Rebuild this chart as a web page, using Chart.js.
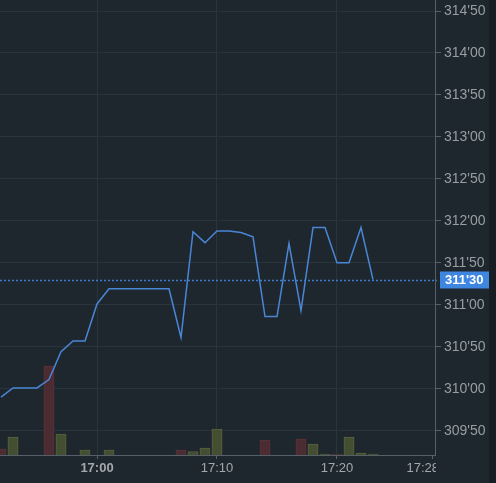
<!DOCTYPE html>
<html>
<head>
<meta charset="utf-8">
<script src="https://cdn.jsdelivr.net/npm/chart.js@4"></script>
<style>
  html, body { margin: 0; padding: 0; background: #181e23; overflow: hidden; }
  #wrap { width: 489px; height: 483px; background: #1f272e; }
</style>
</head>
<body>
<div id="wrap"><canvas id="chart" width="489" height="483"></canvas></div>
<script>
// One-minute bars, 16:52 to 17:23
const times = ['16:52','16:53','16:54','16:55','16:56','16:57','16:58','16:59',
               '17:00','17:01','17:02','17:03','17:04','17:05','17:06','17:07',
               '17:08','17:09','17:10','17:11','17:12','17:13','17:14','17:15',
               '17:16','17:17','17:18','17:19','17:20','17:21','17:22','17:23'];
const prices = [309.90, 310.01, 310.01, 310.01, 310.11, 310.44, 310.57, 310.57,
                311.01, 311.19, 311.19, 311.19, 311.19, 311.19, 311.19, 310.61,
                311.87, 311.74, 311.88, 311.88, 311.86, 311.81, 310.86, 310.86,
                311.73, 310.93, 311.92, 311.92, 311.50, 311.50, 311.92, 311.30];
const volumes = [60, 180, null, null, 890, 210, null, 50,
                 null, 50, null, null, null, null, null, 50,
                 35, 70, 260, null, null, null, 150, null,
                 null, 160, 110, 10, 10, 180, 20, 10];
const volumeDir = ['down','up','','','down','up','','up',
                   '','up','','','','','','down',
                   'up','up','up','','','','down','',
                   '','down','up','up','down','up','up','up'];
const xTicks = ['17:00', '17:10', '17:20', '17:28'];
const yTicks = [309.5, 310, 310.5, 311, 311.5, 312, 312.5, 313, 313.5, 314, 314.5];
const lastPrice = 311.30;

function toMinutes(t) {
    const [h, m] = t.split(':').map(Number);
    return h * 60 + m;
}
function formatPrice(v) {
    const whole = Math.floor(v + 1e-9);
    const frac = Math.round((v - whole) * 100);
    return whole + "'" + String(frac).padStart(2, '0');
}

const gridColor = '#2a343c';
const borderColor = '#566068';
const labelColor = '#979ea4';
const fontFamily = '"Liberation Sans", Arial, sans-serif';

// x ticks: grid ticks on the 10 minute marks, the last label sits a bit left of its tick mark
const xTickValues = xTicks.map(toMinutes);
const lastTick = xTickValues[xTickValues.length - 1];
const lastLabelPos = lastTick - 0.85;

// keep the plot flush with the canvas edges
function noPadding(s) {
    s.paddingTop = 0;
    s.paddingBottom = 0;
    s.paddingLeft = 0;
    s.paddingRight = 0;
}

const priceMarker = {
    id: 'priceMarker',
    afterDraw(chart) {
        const { ctx, chartArea, scales } = chart;
        const y = Math.round(scales.y.getPixelForValue(lastPrice)) + 0.5;
        ctx.save();
        // clip the last time label at the plot edge
        ctx.fillStyle = '#1f272e';
        ctx.fillRect(chartArea.right + 1, chartArea.bottom + 1, 60, 30);
        // dotted last price line
        ctx.strokeStyle = '#3d7ccc';
        ctx.lineWidth = 1.5;
        ctx.setLineDash([2, 2]);
        ctx.beginPath();
        ctx.moveTo(chartArea.left, y);
        ctx.lineTo(chartArea.right + 2, y);
        ctx.stroke();
        ctx.setLineDash([]);
        // price label box
        ctx.fillStyle = '#3f86e0';
        ctx.fillRect(chartArea.right + 5, y - 9, 60, 17);
        ctx.fillStyle = '#ffffff';
        ctx.font = 'bold 13px ' + fontFamily;
        ctx.textBaseline = 'middle';
        ctx.fillText(formatPrice(lastPrice), chartArea.right + 10, y);
        ctx.restore();
    }
};

function initChart() {
    const ctx = document.getElementById('chart').getContext('2d');
    new Chart(ctx, {
        data: {
            datasets: [{
                type: 'line',
                data: times.map((t, i) => ({ x: toMinutes(t), y: prices[i] })),
                borderColor: '#4a86d6',
                borderWidth: 1.5,
                pointRadius: 0,
                tension: 0,
                yAxisID: 'y',
                order: 0
            }, {
                type: 'bar',
                data: times.map((t, i) => ({ x: toMinutes(t), y: volumes[i] })),
                backgroundColor: volumeDir.map(d => d === 'down' ? '#4a2c32' : '#434e32'),
                borderColor: volumeDir.map(d => d === 'down' ? '#5c3036' : '#56633c'),
                borderWidth: 1,
                barPercentage: 1,
                categoryPercentage: 1,
                yAxisID: 'vol',
                order: 1
            }]
        },
        options: {
            responsive: false,
            devicePixelRatio: 1,
            animation: false,
            layout: { padding: 0 },
            plugins: { legend: { display: false }, tooltip: { enabled: false } },
            scales: {
                x: {
                    type: 'linear',
                    offset: false,
                    min: 1020 - 97 / 12,
                    max: 1020 + 338 / 12,
                    afterBuildTicks: s => {
                        s.ticks = xTickValues.slice(0, -1).map(v => ({ value: v }))
                            .concat([{ value: lastLabelPos }, { value: lastTick }]);
                    },
                    afterFit: s => { s.height = 28; noPadding(s); },
                    grid: {
                        offset: false,
                        color: c => (c.tick && c.tick.value < lastLabelPos) ? gridColor : 'rgba(0,0,0,0)',
                        tickColor: c => (c.tick && c.tick.value === lastLabelPos) ? 'rgba(0,0,0,0)' : borderColor,
                        tickLength: 4
                    },
                    border: { display: true, color: borderColor },
                    ticks: {
                        autoSkip: false,
                        maxRotation: 0,
                        padding: 2,
                        color: '#a3a8ad',
                        font: c => ({
                            family: fontFamily,
                            size: 13,
                            weight: (c.tick && c.tick.value % 60 === 0) ? 'bold' : 'normal'
                        }),
                        callback: v => {
                            if (v === lastTick) return '';
                            if (v === lastLabelPos) return xTicks[xTicks.length - 1];
                            return xTicks[xTickValues.indexOf(v)];
                        }
                    }
                },
                y: {
                    position: 'right',
                    min: 314.5 - 455 / 83.94 + 11 / 83.94,
                    max: 314.5 + 11 / 83.94,
                    afterBuildTicks: s => { s.ticks = yTicks.map(v => ({ value: v })); },
                    afterFit: s => { s.width = 54; noPadding(s); },
                    grid: { color: gridColor, tickColor: borderColor, tickLength: 6 },
                    border: { display: true, color: borderColor },
                    ticks: {
                        padding: 3,
                        color: labelColor,
                        font: { family: fontFamily, size: 14 },
                        callback: v => formatPrice(v)
                    }
                },
                vol: {
                    display: false,
                    min: 0,
                    max: 4550
                }
            }
        },
        plugins: [priceMarker]
    });
}

window.onload = initChart;
</script>
</body>
</html>
